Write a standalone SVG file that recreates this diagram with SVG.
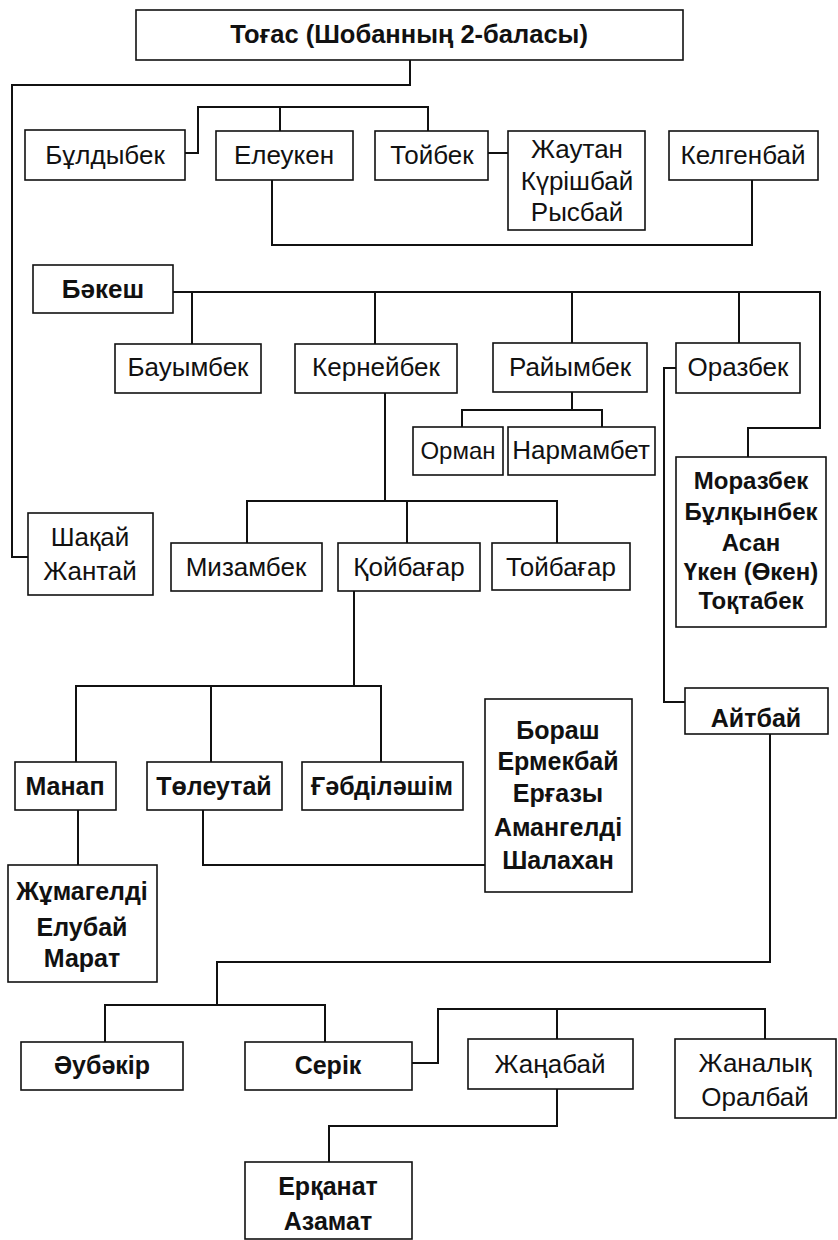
<svg xmlns="http://www.w3.org/2000/svg" width="838" height="1240" viewBox="0 0 838 1240">
<style>
rect{fill:#fff;stroke:#111;stroke-width:1.6}
text{font-family:"Liberation Sans",Arial,sans-serif;font-size:26px;fill:#111;text-anchor:middle}
.b{font-weight:bold;font-size:25px}
.s{font-size:24px}
#connectors path{fill:none;stroke:#111;stroke-width:2}
</style>
<rect x="0" y="0" width="838" height="1240" style="stroke:none"/>
<g id="connectors">
<path d="M410,60 V85 H12 V557 H28"/>
<path d="M185,153 H198 V107 H428 V131 M280,107 V131"/>
<path d="M488,153 H508"/>
<path d="M272,180 V245 H752 V180"/>
<path d="M173,292 H820 V428 H748 V457 M192,292 V344 M375,292 V344 M572,292 V343 M739,292 V343"/>
<path d="M572,392 V410 M462,427 V410 H602 V427"/>
<path d="M676,368 H664 V702 H685"/>
<path d="M385,393 V501 M247,543 V501 H557 V543 M407,501 V543"/>
<path d="M354,591 V686 M76,762 V686 H381 V762 M211,686 V762"/>
<path d="M203,810 V865 H485"/>
<path d="M78,810 V865"/>
<path d="M770,734 V962 H217 V1005 M105,1042 V1005 H325 V1042"/>
<path d="M412,1063 H438 V1009 H765 V1039 M557,1009 V1039"/>
<path d="M557,1089 V1126 H329 V1162"/>
</g>
<g id="n-togas"><rect x="136" y="10" width="547" height="50"/><text class="b" x="409" y="43" style="font-size:25.5px">Тоғас (Шобанның 2-баласы)</text></g>
<g id="n-buldybek"><rect x="25" y="130" width="160" height="50"/><text x="105" y="164">Бұлдыбек</text></g>
<g id="n-eleuken"><rect x="216" y="131" width="137" height="49"/><text x="284" y="164">Елеукен</text></g>
<g id="n-toibek"><rect x="375" y="131" width="113" height="49"/><text x="432" y="164">Тойбек</text></g>
<g id="n-zhautan"><rect x="508" y="131" width="137" height="99"/><text x="577" y="158">Жаутан</text><text x="577" y="190">Күрішбай</text><text x="577" y="221">Рысбай</text></g>
<g id="n-kelgenbai"><rect x="669" y="131" width="149" height="49"/><text x="743" y="164">Келгенбай</text></g>
<g id="n-bakesh"><rect x="33" y="265" width="140" height="48"/><text class="b" x="103" y="298" style="font-size:26px">Бәкеш</text></g>
<g id="n-bauymbek"><rect x="115" y="344" width="146" height="49"/><text x="188" y="376">Бауымбек</text></g>
<g id="n-kerneibek"><rect x="295" y="344" width="162" height="49"/><text x="376" y="376">Кернейбек</text></g>
<g id="n-raiymbek"><rect x="493" y="343" width="154" height="49"/><text x="570" y="376">Райымбек</text></g>
<g id="n-orazbek"><rect x="676" y="343" width="124" height="50"/><text x="738" y="376">Оразбек</text></g>
<g id="n-orman"><rect x="413" y="427" width="90" height="48"/><text x="458" y="459" class="s">Орман</text></g>
<g id="n-narmambet"><rect x="508" y="427" width="147" height="48"/><text x="581" y="459">Нармамбет</text></g>
<g id="n-morazbek"><rect x="676" y="457" width="150" height="170"/><text class="b s" x="751" y="489">Моразбек</text><text class="b s" x="751" y="520">Бұлқынбек</text><text class="b s" x="751" y="551">Асан</text><text class="b s" x="751" y="580">Үкен (Өкен)</text><text class="b s" x="751" y="609">Тоқтабек</text></g>
<g id="n-shakai"><rect x="28" y="513" width="125" height="82"/><text x="90" y="546">Шақай</text><text x="90" y="580">Жантай</text></g>
<g id="n-mizambek"><rect x="171" y="543" width="151" height="48"/><text x="246" y="576">Мизамбек</text></g>
<g id="n-koibagar"><rect x="338" y="543" width="142" height="48"/><text x="409" y="576">Қойбағар</text></g>
<g id="n-toibagar"><rect x="492" y="543" width="138" height="47"/><text x="561" y="576">Тойбағар</text></g>
<g id="n-aitbai"><rect x="685" y="688" width="143" height="46"/><text class="b" x="756" y="727">Айтбай</text></g>
<g id="n-manap"><rect x="15" y="762" width="101" height="48"/><text class="b" x="65" y="795">Манап</text></g>
<g id="n-toleutai"><rect x="147" y="762" width="135" height="48"/><text class="b" x="214" y="795">Төлеутай</text></g>
<g id="n-gabdilashim"><rect x="302" y="762" width="161" height="48"/><text class="b" x="382" y="795">Ғәбділәшім</text></g>
<g id="n-borash"><rect x="485" y="699" width="147" height="193"/><text class="b" x="558" y="739">Бораш</text><text class="b" x="558" y="770">Ермекбай</text><text class="b" x="558" y="802">Ерғазы</text><text class="b" x="558" y="836">Амангелді</text><text class="b" x="558" y="869">Шалахан</text></g>
<g id="n-zhumageldi"><rect x="8" y="865" width="149" height="117"/><text class="b" x="82" y="900">Жұмагелді</text><text class="b" x="82" y="936">Елубай</text><text class="b" x="82" y="967">Марат</text></g>
<g id="n-aubakir"><rect x="21" y="1042" width="162" height="48"/><text class="b" x="102" y="1074">Әубәкір</text></g>
<g id="n-serik"><rect x="245" y="1042" width="167" height="48"/><text class="b" x="328" y="1074">Серік</text></g>
<g id="n-zhanabai"><rect x="468" y="1039" width="165" height="50"/><text x="550" y="1073">Жаңабай</text></g>
<g id="n-zhanalyk"><rect x="675" y="1039" width="161" height="79"/><text x="755" y="1072">Жаналық</text><text x="755" y="1106">Оралбай</text></g>
<g id="n-erkanat"><rect x="245" y="1162" width="167" height="77"/><text class="b" x="328" y="1195">Ерқанат</text><text class="b" x="328" y="1230">Азамат</text></g>
</svg>
